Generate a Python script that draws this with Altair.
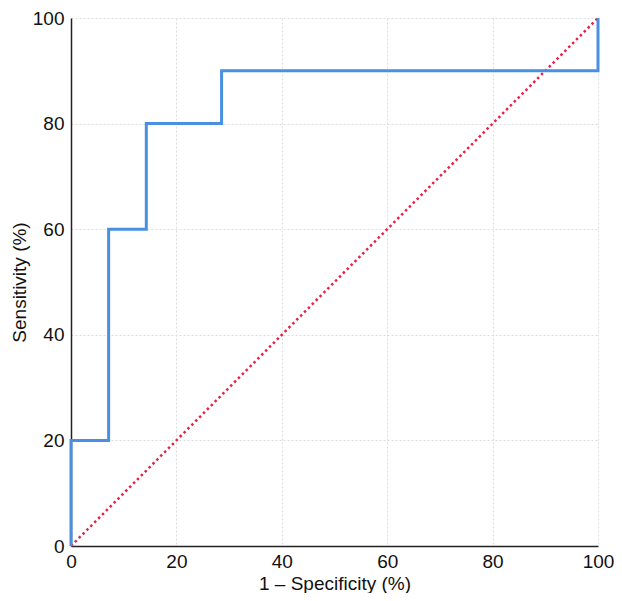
import altair as alt
import pandas as pd

# ROC curve corner points (1 - specificity, sensitivity), in %
fpr = [0, 0, 7.14, 7.14, 14.29, 14.29, 28.57, 28.57, 100, 100]
tpr = [0, 20, 20, 60, 60, 80, 80, 90, 90, 100]
ref_x = [0, 100]
ref_y = [0, 100]
ticks = [0, 20, 40, 60, 80, 100]

roc = pd.DataFrame({"fpr": fpr, "tpr": tpr, "order": list(range(len(fpr)))})
diag = pd.DataFrame({"fpr": ref_x, "tpr": ref_y})

xscale = alt.Scale(domain=[0, 100], nice=False)
yscale = alt.Scale(domain=[0, 100], nice=False)

common = dict(values=ticks, grid=True, ticks=False,
              gridDash=[2, 2], gridColor="#dcdcdc", gridWidth=1,
              domainColor="#222222", domainWidth=1.5,
              labelFontSize=19, titleFontSize=19,
              labelColor="#111111", titleColor="#111111", titleFontWeight="normal",
              labelFont="Liberation Sans", titleFont="Liberation Sans", labelFlush=False)

x_axis = alt.Axis(title="1 – Specificity (%)", labelPadding=6, titlePadding=3, **common)
y_axis = alt.Axis(title="Sensitivity (%)", labelPadding=7, titlePadding=3, **common)

line = alt.Chart(roc).mark_line(color="#4A90E2", strokeWidth=3, clip=False).encode(
    x=alt.X("fpr:Q", scale=xscale, axis=x_axis),
    y=alt.Y("tpr:Q", scale=yscale, axis=y_axis),
    order="order:Q",
)

ref = alt.Chart(diag).mark_line(color="#E8204A", strokeWidth=2.5, strokeDash=[2.5, 3]).encode(
    x=alt.X("fpr:Q", scale=xscale),
    y=alt.Y("tpr:Q", scale=yscale),
)

chart = alt.layer(ref, line).properties(
    width=527, height=528,
    autosize=alt.AutoSizeParams(type="none"),
    padding={"left": 63, "top": 10, "right": 16, "bottom": 47},
).configure_view(stroke=None)

chart.save("out.html", embed_options={"renderer": "svg", "actions": False})
